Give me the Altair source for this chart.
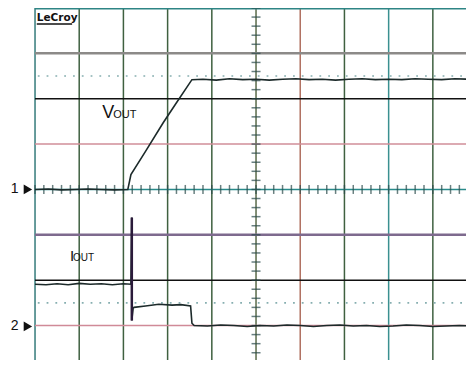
import altair as alt
import pandas as pd
import numpy as np

# ---- graticule (divisions) ----
vgrid_x = [0, 1, 2, 3, 4, 5, 6, 7, 8, 9, 10]
vgrid_color = ["#3a8080", "#3f6040", "#3f6040", "#3f6040", "#3f6040", "#5a6a4a",
               "#b07060", "#3f6040", "#3a9090", "#3f6040", "#3f6040"]
hgrid_y = [4, 3, 2, 1, 0, -1, -2, -3, -4]
hgrid_color = ["#2e8585", "#8c8a88", "#111111", "#d08e98", "#2a8a8a", "#7e6a8e",
               "#111111", "#d08a98", "#3f6040"]
hgrid_width = [3, 2.5, 1.5, 1.5, 1.5, 2.5, 1.5, 1.5, 1.5]
ref_levels = [2.5, -2.5]

# ---- traces ----
vout_x = [0.0, 0.3, 0.6, 0.9, 1.2, 1.5, 1.8, 2.1, 2.17, 2.5, 2.9, 3.2, 3.55,
          3.8, 4.1, 4.4, 4.7, 5.0, 5.3, 5.6, 5.9, 6.2, 6.5, 6.8, 7.1, 7.4,
          7.7, 8.0, 8.3, 8.6, 8.9, 9.2, 9.5, 9.8, 10.0]
vout_y = [0.0, 0.01, -0.01, 0.0, 0.01, 0.0, -0.01, 0.0, 0.33, 0.84, 1.47, 1.91, 2.42,
          2.43, 2.41, 2.44, 2.42, 2.43, 2.41, 2.43, 2.44, 2.42, 2.43, 2.41, 2.43, 2.44,
          2.42, 2.43, 2.42, 2.44, 2.43, 2.42, 2.44, 2.43, 2.42]

iout_x = [0.0, 0.25, 0.5, 0.75, 1.0, 1.25, 1.5, 1.75, 2.0, 2.17, 2.19, 2.19, 2.22,
          2.24, 2.5, 2.8, 3.1, 3.3, 3.52, 3.55, 3.6, 3.9, 4.2, 4.5, 4.8, 5.1,
          5.4, 5.7, 6.0, 6.3, 6.6, 6.9, 7.2, 7.5, 7.8, 8.1, 8.4, 8.7, 9.0,
          9.3, 9.6, 10.0]
iout_y = [-2.09, -2.1, -2.08, -2.1, -2.07, -2.09, -2.08, -2.1, -2.08, -2.09, -0.62, -2.89, -2.62,
          -2.6, -2.57, -2.53, -2.55, -2.54, -2.57, -2.95, -3.0, -3.01, -2.99, -3.0, -3.02, -3.0,
          -3.01, -2.99, -3.0, -3.02, -3.0, -2.99, -3.01, -3.0, -3.02, -3.01, -2.99, -3.0, -3.02,
          -3.01, -3.0, -3.01]

labels = ["V", "OUT", "I", "OUT"]
label_x = [1.52, 1.77, 0.79, 0.86]
label_y = [1.57, 1.57, -1.57, -1.57]
label_size = [18, 11, 15, 10]

channels = ["1", "2"]
channel_y = [0.0, -3.02]

# visible window of the scope screen (divisions)
x_domain = [0, 9.75]
y_domain = [-3.76, 4.0]

xs = alt.Scale(domain=x_domain, nice=False, zero=False)
ys = alt.Scale(domain=y_domain, nice=False, zero=False)

def X(f):
    return alt.X(f, scale=xs, axis=None)

def Y(f):
    return alt.Y(f, scale=ys, axis=None)

vgrid = alt.Chart(pd.DataFrame({"x": vgrid_x, "c": vgrid_color})).mark_rule(strokeWidth=1.5).encode(
    x=X("x:Q"), color=alt.Color("c:N", scale=None))
hgrid = alt.Chart(pd.DataFrame({"y": hgrid_y, "c": hgrid_color, "w": hgrid_width})).mark_rule().encode(
    y=Y("y:Q"), color=alt.Color("c:N", scale=None), strokeWidth=alt.StrokeWidth("w:Q", scale=None))
refs = alt.Chart(pd.DataFrame({"y": ref_levels})).mark_rule(
    strokeDash=[1.8, 7.0], strokeWidth=1.6, color="#86aeb0", strokeDashOffset=-4).encode(y=Y("y:Q"))

tick_pos = np.round(np.arange(-4, 4.01, 0.2), 2)
vticks = alt.Chart(pd.DataFrame({"y": tick_pos, "x": 5})).mark_tick(
    orient="horizontal", size=9, thickness=1.5, color="#2a4a4a").encode(x=X("x:Q"), y=Y("y:Q"))
htick_pos = np.round(np.arange(0, 10.01, 0.2), 2)
hticks = alt.Chart(pd.DataFrame({"x": htick_pos, "y": 0})).mark_tick(
    orient="vertical", size=9, thickness=1.5, color="#2a4a4a").encode(x=X("x:Q"), y=Y("y:Q"))

vout = alt.Chart(pd.DataFrame({"x": vout_x, "y": vout_y, "o": range(len(vout_x))})).mark_line(
    color="#1c2a2a", strokeWidth=1.6, clip=True).encode(x=X("x:Q"), y=Y("y:Q"), order="o:Q")
iout = alt.Chart(pd.DataFrame({"x": iout_x, "y": iout_y, "o": range(len(iout_x))})).mark_line(
    color="#1c2a2a", strokeWidth=1.6, clip=True).encode(x=X("x:Q"), y=Y("y:Q"), order="o:Q")
spike = alt.Chart(pd.DataFrame({"x": [2.19], "y": [-0.62], "y2": [-2.89]})).mark_rule(
    color="#2a1a3a", strokeWidth=2.5).encode(x=X("x:Q"), y=Y("y:Q"), y2="y2:Q")

lab = alt.Chart(pd.DataFrame({"t": labels, "x": label_x, "y": label_y, "s": label_size})).mark_text(
    align="left", baseline="alphabetic", font="Liberation Sans", color="#111111").encode(
    x=X("x:Q"), y=Y("y:Q"), text="t:N", size=alt.Size("s:Q", scale=None))

ch_text = alt.Chart(pd.DataFrame({"t": channels, "y": channel_y, "x": -0.46})).mark_text(
    align="center", baseline="middle", font="Liberation Sans", fontSize=14, color="#111111").encode(
    x=X("x:Q"), y=Y("y:Q"), text="t:N")
ch_arrow = alt.Chart(pd.DataFrame({"y": channel_y, "x": -0.16})).mark_point(
    shape="triangle-right", filled=True, size=95, color="#111111", opacity=1).encode(
    x=X("x:Q"), y=Y("y:Q"))

logo = alt.Chart(pd.DataFrame({"t": ["LeCroy"], "x": [0.04], "y": [3.72]})).mark_text(
    align="left", baseline="alphabetic", font="DejaVu Sans", fontWeight="bold", fontSize=10.5,
    color="#111111").encode(x=X("x:Q"), y=Y("y:Q"), text="t:N")
logo_line = alt.Chart(pd.DataFrame({"x": [0.04], "x2": [0.84], "y": [3.65]})).mark_rule(
    color="#111111", strokeWidth=1.5).encode(x=X("x:Q"), x2="x2:Q", y=Y("y:Q"))

chart = alt.layer(vgrid, hgrid, refs, vticks, hticks, vout, iout, spike, lab,
                  ch_text, ch_arrow, logo, logo_line).properties(
    width=431, height=352,
    autosize=alt.AutoSizeParams(type="none"),
    padding={"left": 27, "top": 0, "right": 0, "bottom": 0},
).configure_view(stroke=None).configure(background="white")

chart.save("out.html", embed_options={"renderer": "svg", "actions": False})
